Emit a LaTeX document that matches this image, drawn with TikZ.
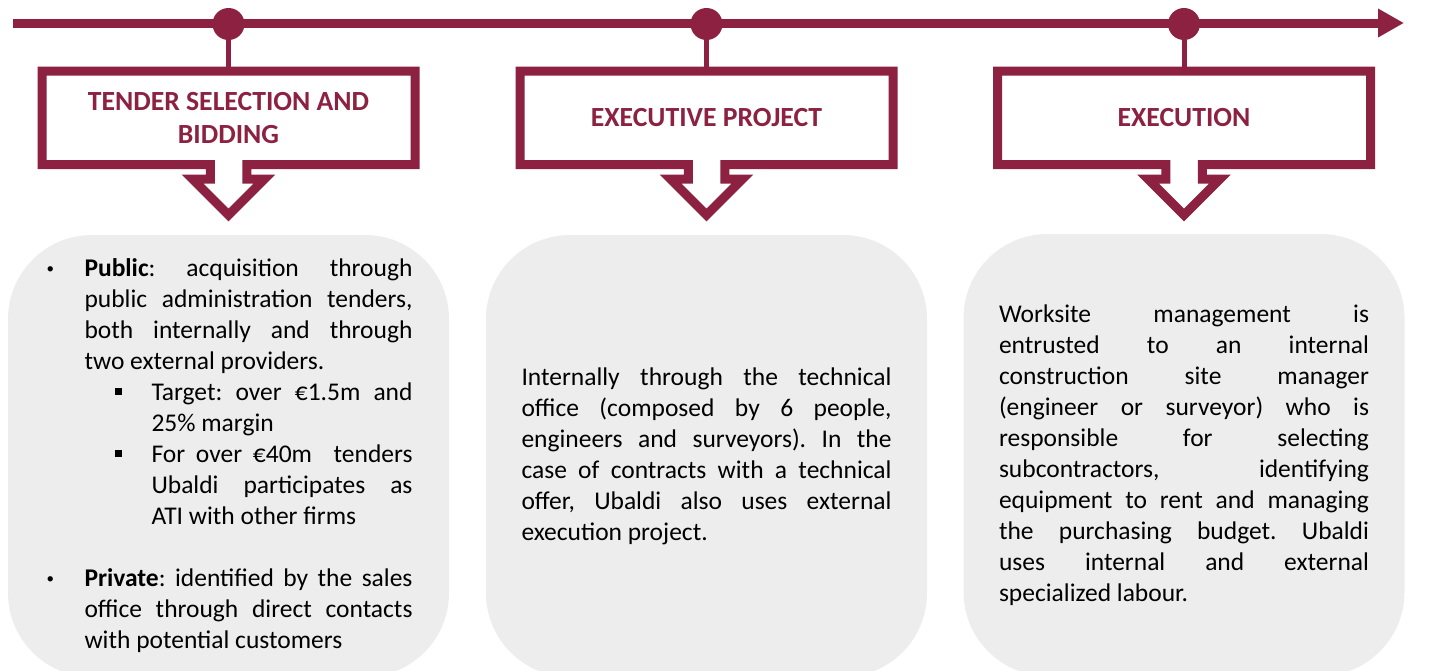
\documentclass[tikz,border=0pt]{standalone}
\usepackage{fontspec}
\setmainfont{Carlito}
\usetikzlibrary{arrows.meta,calc}
\definecolor{wine}{RGB}{140,33,65}
\definecolor{panelgray}{RGB}{237,237,237}

% justified body text with fixed line ends
\newcommand{\bodysetup}{%
  \setlength\parindent{0pt}%
  \setlength\parfillskip{0pt plus 1fil}%
  \hyphenpenalty=10000 \exhyphenpenalty=10000
  \tolerance=10000 \hbadness=10000
  \frenchspacing
  \fontsize{25.5}{31}\selectfont}
\newcommand{\sqbullet}{\raisebox{5.5pt}{\rule{7pt}{7pt}}}
\newcommand{\dotbullet}{\raisebox{3pt}{\fontsize{15}{15}\selectfont\textbullet}}

\tikzset{
  x=1pt, y=-1pt,
  callout/.pic={
    \draw[wine, line width=9pt, miter limit=10]
      (-186.5,-46.75) -- (186.5,-46.75) -- (186.5,46.75) -- (18.25,46.75)
      -- (18.25,61.25) -- (36,61.25) -- (0,97.25) -- (-36,61.25)
      -- (-18.25,61.25) -- (-18.25,46.75) -- (-186.5,46.75) -- cycle;
    \coordinate (-top) at (0,-51.25);
  },
  milestone/.style={circle, fill=wine, minimum size=32pt, inner sep=0pt},
  stemline/.style={wine, line width=5pt},
  timeline/.style={wine, line width=9pt, -{Triangle[length=26pt,width=27pt]}},
  titletext/.style={text=wine, align=center, inner sep=0pt,
    font=\bfseries\fontsize{27.7}{33}\selectfont},
  panel/.style={fill=panelgray, rounded corners=84pt, minimum width=441pt,
    minimum height=442pt, inner sep=0pt},
}

\begin{document}
\begin{tikzpicture}
\clip (0,0) rectangle (1455,670);

% time axis
\coordinate (axisstart) at (13,23);
\coordinate (axisend) at (1404,23);
\draw[timeline] (axisstart) -- (axisend);

% phase headers
\pic (c1) at (228.5,117.75) {callout};
\pic (c2) at (706.5,117.75) {callout};
\pic (c3) at (1184,117.75) {callout};

\node[titletext] (t1) at (228.5,117.75) {TENDER SELECTION AND\\BIDDING};
\node[titletext] (t2) at (706.5,117.75) {EXECUTIVE PROJECT};
\node[titletext] (t3) at (1184,117.75) {EXECUTION};

\node[milestone] (m1) at (228.5,24) {};
\node[milestone] (m2) at (706.5,24) {};
\node[milestone] (m3) at (1184,24) {};
\draw[stemline] (m1) -- (c1-top);
\draw[stemline] (m2) -- (c2-top);
\draw[stemline] (m3) -- (c3-top);

% description panels
\node[panel] (p1) at (228.5,456) {%
\begin{minipage}{368pt}\bodysetup
{\leftskip=40pt \noindent\llap{\makebox[40pt][l]{\hspace{2pt}\dotbullet}}%
\textbf{Public}: acquisition through\linebreak
public administration tenders,\linebreak
both internally and through\linebreak
two external providers.\par}
{\leftskip=107pt \noindent\llap{\makebox[37pt][l]{\sqbullet}}%
Target: over €1.5m and\linebreak
25\% margin\par}
{\leftskip=107pt \noindent\llap{\makebox[37pt][l]{\sqbullet}}%
For over €40m\ \ tenders\linebreak
Ubaldi participates as\linebreak
ATI with other firms\par}
\vskip 31pt
{\leftskip=40pt \noindent\llap{\makebox[40pt][l]{\hspace{2pt}\dotbullet}}%
\textbf{Private}: identified by the sales\linebreak
office through direct contacts\linebreak
with potential customers\par}
\end{minipage}};

\node[panel] (p2) at (706.5,456) {%
\begin{minipage}{370pt}\bodysetup
Internally through the technical\linebreak
office (composed by 6 people,\linebreak
engineers and surveyors). In the\linebreak
case of contracts with a technical\linebreak
offer, Ubaldi also uses external\linebreak
execution project.\par
\end{minipage}};

\node[panel] (p3) at (1184,455) {%
\begin{minipage}{370pt}\bodysetup
Worksite management is\linebreak
entrusted to an internal\linebreak
construction site manager\linebreak
(engineer or surveyor) who is\linebreak
responsible for selecting\linebreak
subcontractors, identifying\linebreak
equipment to rent and managing\linebreak
the purchasing budget. Ubaldi\linebreak
uses internal and external\linebreak
specialized labour.\par
\end{minipage}};
\end{tikzpicture}
\end{document}
